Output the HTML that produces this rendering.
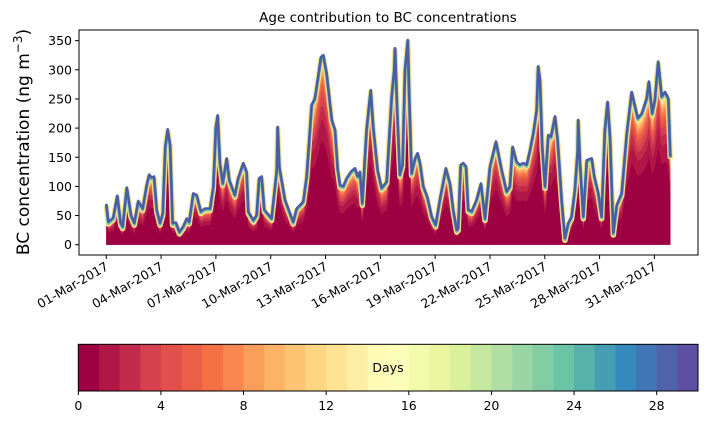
<!DOCTYPE html>
<html><head><meta charset="utf-8"><style>
html,body{margin:0;padding:0;background:#fff;}
svg text{font-family:"DejaVu Sans","Liberation Sans",sans-serif;}
</style></head><body>
<svg id="chart" width="707" height="425" viewBox="0 0 707 425" xmlns="http://www.w3.org/2000/svg">
<text x="388" y="22" font-size="13.5" text-anchor="middle">Age contribution to BC concentrations</text>
<text transform="translate(29,142) rotate(-90)" font-size="17" text-anchor="middle">BC concentration (ng m<tspan font-size="12" dy="-7">−3</tspan><tspan dy="7">)</tspan></text>
<g id="layers"></g>
<g id="axes"></g>
<g id="cbar"></g>
</svg>
<script>
// time in days since 01-Mar-2017 00:00
const days = [0,0.11,0.38,0.60,0.79,0.90,1.12,1.35,1.53,1.75,1.99,2.21,2.35,2.48,2.61,2.76,2.94,3.09,3.23,3.36,3.49,3.63,3.81,4.00,4.21,4.40,4.54,4.76,4.95,5.18,5.40,5.68,5.86,6.00,6.10,6.22,6.37,6.59,6.73,7.04,7.22,7.50,7.68,7.77,8.05,8.23,8.37,8.50,8.65,9.05,9.33,9.38,9.47,9.78,10.23,10.42,10.78,10.97,11.11,11.24,11.42,11.60,11.75,11.88,12.06,12.34,12.52,12.66,12.79,12.97,13.16,13.39,13.61,13.76,13.88,14.01,14.25,14.47,14.61,14.85,15.07,15.35,15.62,15.76,15.80,15.93,16.07,16.22,16.35,16.50,16.58,16.71,16.90,17.04,17.17,17.35,17.57,17.81,18.03,18.26,18.59,18.81,18.99,19.18,19.26,19.40,19.54,19.69,19.81,20.00,20.27,20.51,20.73,21.00,21.33,21.64,21.91,22.09,22.24,22.46,22.64,22.82,23.01,23.19,23.37,23.56,23.64,23.74,23.86,24.01,24.19,24.34,24.56,24.70,24.92,25.10,25.29,25.47,25.65,25.80,25.83,25.93,26.11,26.30,26.57,26.71,26.93,27.11,27.29,27.44,27.57,27.75,27.94,28.21,28.49,28.76,29.09,29.31,29.58,29.70,29.88,30.03,30.21,30.40,30.58,30.76,30.87];
// total BC concentration (ng m-3)
const totalBC = [70,39,46,84,37,31,98,51,37,75,62,102,120,115,117,60,37,54,168,198,171,37,38,22,31,45,39,88,85,57,62,62,100,202,222,140,105,148,111,85,114,140,125,57,42,51,114,117,60,45,128,202,134,77,39,62,74,117,180,240,251,288,322,325,294,214,197,131,102,100,114,125,131,117,125,71,197,265,202,128,97,108,254,300,337,225,120,137,300,351,254,122,148,157,140,100,82,48,34,77,131,105,60,25,28,137,140,134,60,57,77,105,45,134,177,128,91,100,168,142,137,140,137,162,191,231,306,282,168,100,188,185,220,180,77,11,37,48,94,162,214,140,48,145,148,117,88,48,197,245,185,20,68,88,191,262,217,225,251,280,225,248,314,254,262,251,151];
// share of total by age bin (days 0..29)
const ageShare = [0.55,0.12,0.07,0.05,0.04,0.03,0.025,0.02,0.018,0.015,0.012,0.01,0.009,0.008,0.007,0.006,0.004,0.003,0.002,0.0015,0.001,0.001,0.001,0.001,0.001,0.001,0.001,0.001,0.001,0.001];
const yTicks = [0,50,100,150,200,250,300,350];
const xTickDays = [0,3,6,9,12,15,18,21,24,27,30];
const xTickLabels = ["01-Mar-2017","04-Mar-2017","07-Mar-2017","10-Mar-2017","13-Mar-2017","16-Mar-2017","19-Mar-2017","22-Mar-2017","25-Mar-2017","28-Mar-2017","31-Mar-2017"];
const cbTicks = [0,4,8,12,16,20,24,28];

(function(){
const NS="http://www.w3.org/2000/svg";
const PL=79,PR=698,PT=30,PB=255;
const xS=d=>106.3+18.27*d;
const yS=v=>244.7-0.583*v;
const N=Math.min(days.length,totalBC.length);
const spectral=["#9e0142","#d53e4f","#f46d43","#fdae61","#fee08b","#ffffbf","#e6f598","#abdda4","#66c2a5","#3288bd","#5e4fa2"];
function hx(h){return [1,3,5].map(i=>parseInt(h.substr(i,2),16));}
function cmap(t){t=Math.max(0,Math.min(1,t));const p=t*10,i=Math.min(9,Math.floor(p)),f=p-i;const a=hx(spectral[i]),b=hx(spectral[i+1]);return "rgb("+a.map((c,k)=>Math.round(c+(b[k]-c)*f)).join(",")+")";}
function mk(tag,attrs,parent){const e=document.createElementNS(NS,tag);for(const k in attrs)e.setAttribute(k,attrs[k]);parent.appendChild(e);return e;}

const shareSum=ageShare.reduce((a,b)=>a+b,0);
const layerG=document.getElementById('layers');
let ld="";
for(let i=0;i<N;i++) ld+=(i?"L":"M")+xS(days[i]).toFixed(1)+","+yS(totalBC[i]).toFixed(1);
let cumLow=0;
for(let k=0;k<ageShare.length;k++){
  const lo=cumLow/shareSum, hi=(cumLow+ageShare[k])/shareSum;
  cumLow+=ageShare[k];
  let d="";
  for(let i=0;i<N;i++) d+=(i?"L":"M")+xS(days[i]).toFixed(1)+","+yS(totalBC[i]*hi).toFixed(1);
  for(let i=N-1;i>=0;i--) d+="L"+xS(days[i]).toFixed(1)+","+yS(totalBC[i]*lo).toFixed(1);
  const p=mk('path',{d:d+"Z",fill:cmap(k/29),stroke:cmap(k/29),'stroke-width':0.4},layerG);
  
  
}
const g0=mk('path',{d:ld,fill:"none",stroke:"#fee08b","stroke-width":5.5,"stroke-linejoin":"round",transform:"translate(0,2)"},layerG);


const g1=mk('path',{d:ld,fill:"none",stroke:"#7fcba4","stroke-width":3.5,"stroke-linejoin":"round",transform:"translate(0,1.3)"},layerG);


const topLine=mk('path',{d:ld,fill:"none",stroke:"#4a5ba8","stroke-width":2.6,"stroke-linejoin":"round"},layerG);



const axes=document.getElementById('axes');
const frame=mk('rect',{x:PL,y:PT,width:PR-PL,height:PB-PT,fill:"none",stroke:"#000","stroke-width":1},axes);


yTicks.forEach(v=>{
  const y=yS(v);
  const t=mk('line',{x1:PL-4,x2:PL,y1:y,y2:y,stroke:"#000"},axes);
  
  
  const l=mk('text',{x:PL-7,y:y+4.5,"font-size":12.5,"text-anchor":"end"},axes);
  l.textContent=v;
  
  
});
xTickDays.forEach((d,i)=>{
  const x=xS(d);
  const t=mk('line',{x1:x,x2:x,y1:PB,y2:PB+4,stroke:"#000"},axes);
  
  
  const l=mk('text',{transform:"translate("+(x+3)+","+(PB+14)+") rotate(-30)","font-size":12.5,"text-anchor":"end"},axes);
  l.textContent=xTickLabels[i];
  
  
});

const cb=document.getElementById('cbar');
const CL=78.3,CR=698,CT=344.3,CB=391,cw=(CR-CL)/30;
for(let k=0;k<30;k++){
  const r=mk('rect',{x:CL+k*cw,y:CT,width:cw+0.5,height:CB-CT,fill:cmap(k/29)},cb);
  
  
}
const cf=mk('rect',{x:CL,y:CT,width:CR-CL,height:CB-CT,fill:"none",stroke:"#000"},cb);


const dl=mk('text',{x:388,y:372,"font-size":12.5,"text-anchor":"middle"},cb);
dl.textContent="Days";


cbTicks.forEach(v=>{
  const x=CL+v*cw;
  const t=mk('line',{x1:x,x2:x,y1:CB,y2:CB+4,stroke:"#000"},cb);
  
  
  const l=mk('text',{x:x,y:CB+19,"font-size":12.5,"text-anchor":"middle"},cb);
  l.textContent=v;
  
  
});
})();
</script>
</body></html>
